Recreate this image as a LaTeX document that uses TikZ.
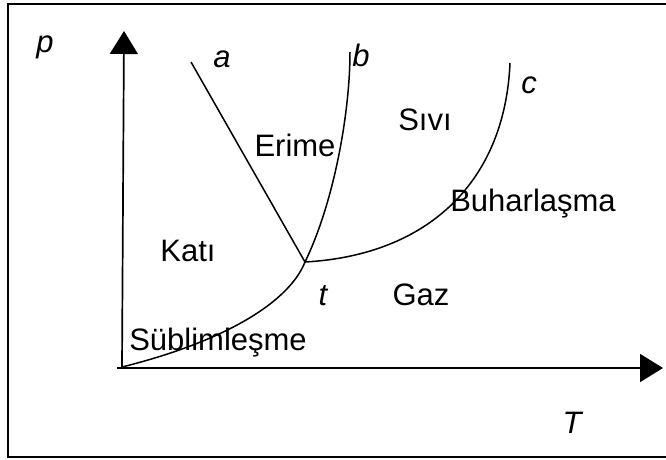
\documentclass[tikz,border=0pt]{standalone}
\usepackage{fontspec}
\setmainfont{Liberation Sans}
\usetikzlibrary{arrows.meta}
\tikzset{
  lbl/.style   = {font=\fontsize{31}{36}\selectfont, anchor=base, inner sep=0pt},
  var/.style   = {lbl, font=\fontsize{31}{36}\selectfont\itshape},
  axis/.style  = {-{Triangle[length=23pt, width=28pt]}, line width=1.7pt},
  curve/.style = {line width=1.5pt}
}

\begin{document}
\begin{tikzpicture}[x=1pt, y=-1pt]
  \useasboundingbox (0,0) rectangle (666,459);
  % frame
  \draw[line width=1.5pt] (690,4) -- (8,4) -- (8,457) -- (690,457);

  % points of the diagram
  \coordinate (O)     at (122,367);
  \coordinate (xbeg)  at (117,368);
  \coordinate (xend)  at (663,368);
  \coordinate (ytop)  at (124,31);
  \coordinate (trip)  at (305,262);
  \coordinate (aend)  at (191,62);
  \coordinate (bend)  at (350,52);
  \coordinate (cend)  at (510,63);

  % axes
  \draw[axis] (O) -- (ytop);
  \draw[axis] (xbeg) -- (xend);

  % phase boundaries
  \draw[curve] (O) .. controls (230,340) and (290,300) .. (trip);
  \draw[curve] (aend) -- (trip);
  \draw[curve] (trip) .. controls (335,200) and (350,110) .. (bend);
  \draw[curve] (trip) .. controls (430,255) and (505,180) .. (cend);

  % labels
  \node[var] (p)   at (45,52)   {p};
  \node[var] (T)   at (572,433) {T};
  \node[var] (a)   at (222,67)  {a};
  \node[var] (b)   at (361,66)  {b};
  \node[var] (c)   at (529,93)  {c};
  \node[var] (t)   at (323,305) {t};
  \node[lbl] (erime) at (295,156) {Erime};
  \node[lbl] (sivi)  at (425,130) {Sıvı};
  \node[lbl] (buhar) at (533,211) {Buharlaşma};
  \node[lbl] (kati)  at (188,261) {Katı};
  \node[lbl] (gaz)   at (421,305) {Gaz};
  \node[lbl] (subl)  at (218,350) {Süblimleşme};
\end{tikzpicture}
\end{document}
